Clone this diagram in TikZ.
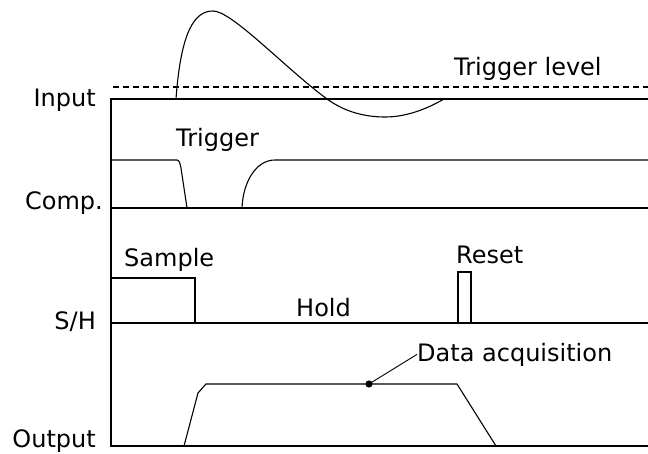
\documentclass[tikz,border=0pt]{standalone}
\usepackage{fontspec}
\setmainfont{DejaVu Sans}
\begin{document}
\begin{tikzpicture}[x=1pt,y=-1pt,
  axisline/.style={line width=2.7pt},
  sig/.style={line width=1.1pt},
  lbl/.style={inner sep=0pt,font=\fontsize{24}{28}\selectfont},
  dashlevel/.style={line width=1.1pt,dash pattern=on 6pt off 4pt}]
\useasboundingbox (0,0) rectangle (648,454);
% axes
\draw[axisline] (111,99) -- (111,447);
\draw[axisline] (110,99) -- (648,99);
\draw[axisline] (110,208) -- (648,208);
\draw[axisline] (110,323) -- (648,323);
\draw[axisline] (110,446) -- (648,446);
% trigger level
\draw[dashlevel] (113,87) -- (648,87);
% input signal
\draw[sig] (176,99) .. controls (181,30) and (195,11) .. (213,11)
  .. controls (232,11) and (285,68) .. (327,99)
  .. controls (345,112) and (365,117) .. (385,117)
  .. controls (405,117) and (425,110) .. (444,99);
% comparator
\draw[sig] (111,160) -- (177,160) .. controls (179,160) and (180,163) .. (181,168) -- (187,208);
\draw[sig] (242,208) .. controls (243,182) and (256,160) .. (275,160) -- (648,160);
% sample/hold
\draw[sig] (111,278) -- (195,278) -- (195,323);
\draw[sig] (458,323) -- (458,272) -- (471,272) -- (471,323);
% output
\draw[sig] (184,446) -- (198,393) -- (206,384) -- (457,384) -- (496,446);
\coordinate (dot) at (369,384);
\fill (dot) circle (3.6pt);
% labels
\node[lbl,anchor=base east] (lin) at (96,107) {Input};
\node[lbl,anchor=base east] (lcomp) at (103,210) {Comp.};
\node[lbl,anchor=base east] (lsh) at (96,330) {S/H};
\node[lbl,anchor=base east] (lout) at (96,447) {Output};
\node[lbl,anchor=base west] (ltl) at (454,76) {Trigger level};
\node[lbl,anchor=base west] (ltr) at (176,147) {Trigger};
\node[lbl,anchor=base west] (lsam) at (124,267) {Sample};
\node[lbl,anchor=base west] (lhold) at (296,317) {Hold};
\node[lbl,anchor=base west] (lres) at (456,264) {Reset};
\node[lbl,anchor=base west] (lda) at (417,361) {Data acquisition};
\draw[line width=0.9pt] (dot) -- (lda.west);
\end{tikzpicture}
\end{document}
